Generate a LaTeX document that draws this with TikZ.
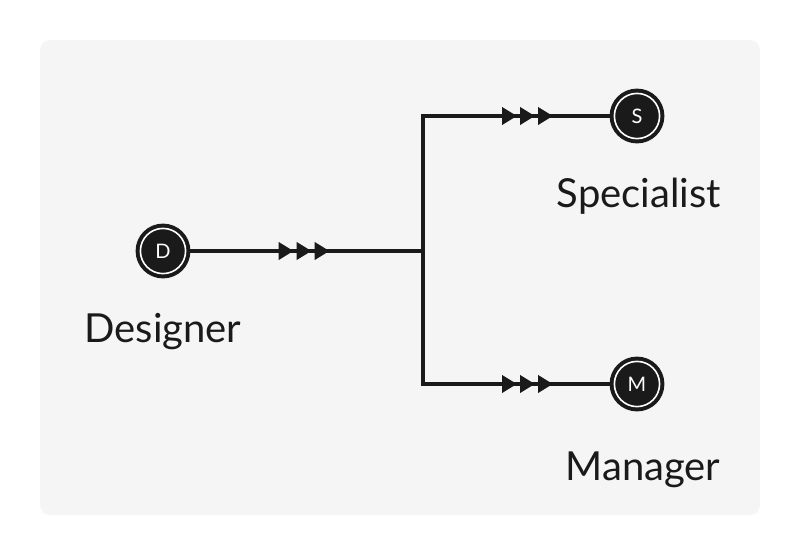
\documentclass[tikz,border=0pt]{standalone}
\usepackage{fontspec}
\setmainfont{Lato}
\usetikzlibrary{arrows.meta,decorations.markings}
\definecolor{panel}{HTML}{F5F5F5}
\definecolor{ink}{HTML}{1A1A1A}

\begin{document}
\begin{tikzpicture}[
  x=0.5pt, y=-0.5pt,
  triple/.tip={Triangle[length=7.5pt,width=8.5pt,sep=1.5pt]Triangle[length=7.5pt,width=8.5pt,sep=1.5pt]Triangle[length=7.5pt,width=8.5pt,sep=1.5pt]},
  wire/.style={draw=ink, line width=2pt},
  actor/.style={circle, fill=ink, draw=ink, line width=2pt, double=white,
    double distance=0.8pt, minimum size=22.6pt, inner sep=0pt, text=white,
    font=\fontsize{10}{10}\selectfont},
  lbl/.style={anchor=base, text=ink, font=\fontsize{20}{24}\selectfont},
  flow/.style={wire, postaction={decorate},
    decoration={markings, mark=at position #1 with {\arrow[ink]{triple}}}},
]
\useasboundingbox (0,0) rectangle (800,553);
\fill[panel, rounded corners=5pt] (40,40) rectangle (760,515);

\node[actor] (D) at (163,251) {D};
\node[actor] (S) at (637,116) {S};
\node[actor] (M) at (637,384) {M};
\coordinate (j) at (423,251);
\coordinate (js) at (j |- S);
\coordinate (jm) at (j |- M);

% branch
\draw[wire, line cap=rect] (js) -- (jm);
\draw[flow=72.5pt] (D) -- (j);
\draw[flow=66.5pt] (js) -- (S);
\draw[flow=66.5pt] (jm) -- (M);

\node[lbl] (dname) at (163,342) {Designer};
\node[lbl] (sname) at (639,207) {Specialist};
\node[lbl] (mname) at (643,480) {Manager};
\end{tikzpicture}
\end{document}
